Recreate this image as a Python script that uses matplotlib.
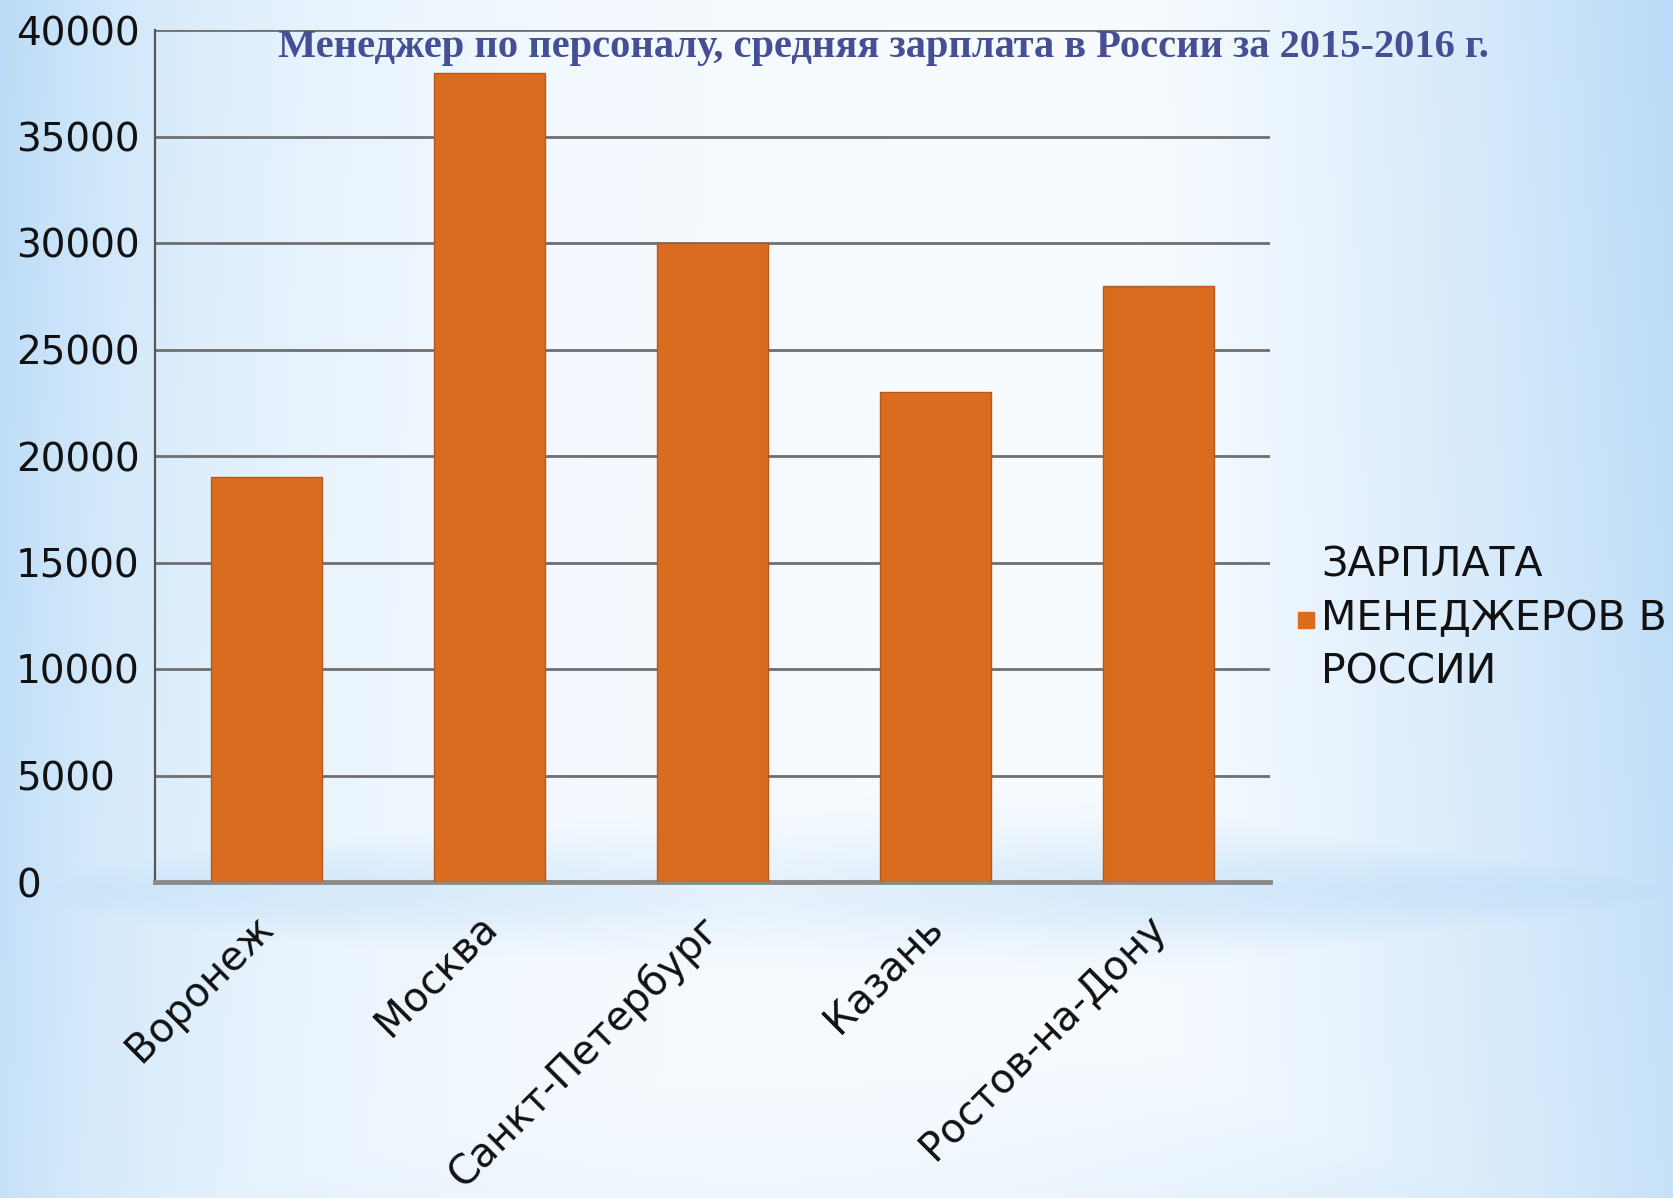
import numpy as np
import matplotlib
matplotlib.use("Agg")
import matplotlib.pyplot as plt
import matplotlib.transforms as mtransforms
from matplotlib.lines import Line2D

# данные
cities = ['Воронеж', 'Москва', 'Санкт-Петербург', 'Казань', 'Ростов-на-Дону']
salary = [19000, 38000, 30000, 23000, 28000]
yticks = [0, 5000, 10000, 15000, 20000, 25000, 30000, 35000, 40000]
title = 'Менеджер по персоналу, средняя зарплата в России за 2015-2016 г.'
series_name = 'ЗАРПЛАТА\nМЕНЕДЖЕРОВ В\nРОССИИ'

bar_color = '#d96c1f'
grid_color = '#6f6f6f'

W, H = 1674, 1198
fig = plt.figure(figsize=(W / 100, H / 100), dpi=100)

# фон: голубой градиент по краям, белый в центре
bg = fig.add_axes([0, 0, 1, 1], zorder=-10)
yy, xx = np.mgrid[0:1:300j, 0:1:420j]
edge = np.abs(xx - 0.45) * 2
left = np.exp(-xx / 0.15) * (0.8 + 0.2 * (1 - yy))
right = np.clip((xx - 0.66) / 0.34, 0, 1) ** 1.3 * (1.0 - 0.2 * yy)
band = np.exp(-((yy - 0.745) / 0.05) ** 2) * (0.3 + 0.5 * edge)
bottom = np.clip((yy - 0.85) / 0.15, 0, 1) * (0.15 + 0.45 * edge ** 2)
amt = np.clip(np.maximum.reduce([left, right, band, bottom]), 0, 1)
white = np.array([0.975, 0.988, 1.0])
blue = np.array([0.73, 0.86, 0.97])
img = white * (1 - amt[..., None]) + blue * amt[..., None]
bg.imshow(img, aspect='auto', extent=[0, 1, 0, 1], origin='upper')
bg.axis('off')

ax = fig.add_axes([155 / W, 1 - 882 / H, (1270 - 155) / W, (882 - 30) / H])
ax.patch.set_alpha(0)

x = np.arange(len(cities))
ax.bar(x, salary, width=0.5, color=bar_color, edgecolor='#b55a1c', linewidth=1, zorder=3)

ax.set_xlim(-0.5, len(cities) - 0.5)
ax.set_ylim(0, 40000)
ax.set_yticks(yticks)
ax.set_yticklabels([str(v) for v in yticks])
ax.set_axisbelow(True)
ax.grid(axis='y', color=grid_color, linewidth=2)

for s in ['top', 'right']:
    ax.spines[s].set_visible(False)
ax.spines['left'].set_color('#555555')
ax.spines['left'].set_linewidth(1.6)
ax.spines['bottom'].set_color('#8a8a8a')
ax.spines['bottom'].set_linewidth(3.5)

ax.tick_params(axis='y', length=0, pad=100, labelsize=28, labelcolor='#111111')
for lbl in ax.get_yticklabels():
    lbl.set_ha('left')

ax.set_xticks(x)
ax.set_xticklabels(cities, rotation=45, ha='right', rotation_mode='anchor', fontsize=29, color='#111111')
ax.tick_params(axis='x', length=0, pad=18)
shift = mtransforms.ScaledTranslation(-0.13, 0.0, fig.dpi_scale_trans)
for lbl in ax.get_xticklabels():
    lbl.set_transform(lbl.get_transform() + shift)

# заголовок
fig.text(0.5275, 1 - 48 / H, title, ha='center', va='center', fontsize=29.2,
         fontweight='bold', family='Liberation Serif', color='#454f96')

# легенда
handle = Line2D([], [], marker='s', linestyle='none', markersize=12, color=bar_color)
leg = ax.legend([handle], [series_name], loc='center left', frameon=False,
                bbox_to_anchor=(1296 / W, 1 - 619 / H), bbox_transform=fig.transFigure,
                fontsize=29.5, handlelength=0.5, handletextpad=0.12, borderpad=0,
                borderaxespad=0, labelspacing=0, labelcolor='#111111')
for t in leg.get_texts():
    t.set_linespacing(1.45)

fig.savefig('out.png', dpi=100)
